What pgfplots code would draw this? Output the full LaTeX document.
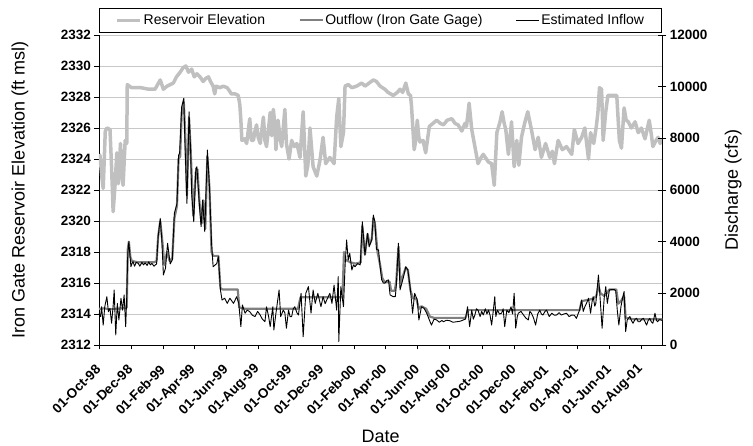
\documentclass[border=0pt]{standalone}
\usepackage{pgfplots}
\pgfplotsset{compat=1.18}
\usepackage{pgfplotstable}
\usepackage{fontspec}
\setmainfont{Liberation Sans}
\definecolor{elev}{HTML}{C0C0C0}
\definecolor{outf}{HTML}{808080}
\definecolor{gridc}{HTML}{C8C8C8}
\pgfplotsset{
  /pgf/number format/set thousands separator={},
  /pgf/number format/assume math mode=true,
}
% day (since 01-Oct-1998), elevation ft msl
\pgfplotstableread{
d e
0 2324.3
2 2324.2
5 2323.0
8 2322.1
12 2325.8
15 2326.0
21 2325.9
24 2323.5
27 2320.6
31 2322.5
34 2324.4
37 2322.4
41 2325.0
44 2323.0
46 2322.3
50 2325.2
53 2325.0
54 2328.8
62 2328.6
80 2328.6
95 2328.5
107 2328.5
112 2328.8
117 2329.1
123 2328.5
130 2328.7
136 2328.8
142 2328.9
148 2329.3
155 2329.6
161 2329.9
166 2330.0
171 2329.6
177 2329.8
182 2329.3
187 2329.5
193 2329.3
199 2329.0
204 2329.2
209 2329.3
213 2329.0
218 2328.7
221 2328.2
224 2328.7
231 2328.6
237 2328.7
245 2328.6
253 2328.2
260 2328.2
266 2328.1
269 2327.5
271 2326.5
273 2325.2
278 2325.3
282 2325.0
288 2326.6
291 2325.2
295 2325.2
298 2325.8
301 2326.2
304 2325.4
308 2325.0
314 2326.7
317 2325.2
320 2324.8
324 2326.0
327 2327.0
330 2325.5
333 2327.2
336 2326.2
338 2324.6
342 2326.5
346 2325.3
349 2324.8
352 2326.0
355 2327.2
358 2325.0
363 2324.0
368 2325.2
373 2324.8
378 2325.0
384 2324.1
390 2327.05
395 2322.9
399 2323.6
403 2326.0
409 2323.5
416 2322.9
422 2323.9
428 2325.4
433 2323.7
441 2324.1
449 2323.7
454 2326.7
458 2327.9
462 2324.8
467 2325.7
470 2328.7
476 2328.8
483 2328.6
492 2328.7
502 2328.9
508 2328.7
516 2328.9
524 2329.1
530 2329.0
537 2328.7
546 2328.5
552 2328.3
562 2328.1
570 2328.3
575 2328.5
580 2328.3
586 2328.9
591 2328.2
595 2328.1
597 2327.4
602 2324.6
605 2325.2
608 2326.5
611 2325.4
613 2325.1
619 2325.2
624 2324.4
631 2326.1
638 2326.3
645 2326.5
652 2326.3
658 2326.2
665 2326.5
674 2326.6
680 2326.3
686 2326.2
693 2325.8
699 2326.3
702 2326.1
707 2327.6
712 2325.9
718 2324.8
724 2323.7
730 2324.1
734 2324.3
740 2324.0
744 2323.8
750 2323.7
755 2322.3
760 2325.7
766 2326.4
770 2327.05
774 2326.3
777 2325.9
782 2324.3
788 2326.4
793 2323.5
798 2325.2
802 2323.6
807 2325.4
813 2326.3
819 2327.05
826 2325.9
833 2324.6
839 2325.4
845 2324.1
853 2325.0
861 2324.1
866 2324.5
870 2323.7
877 2325.2
885 2324.6
893 2324.8
899 2324.5
903 2324.3
908 2325.9
915 2325.0
922 2325.4
928 2326.0
935 2324.0
939 2325.7
945 2325.0
950 2326.1
953 2327.0
956 2328.6
960 2328.5
963 2325.2
968 2327.05
972 2328.1
989 2328.1
994 2325.2
998 2324.7
1003 2327.3
1007 2326.5
1011 2326.4
1017 2326.0
1024 2326.4
1030 2325.7
1036 2326.0
1043 2325.3
1051 2326.5
1055 2325.6
1058 2324.8
1064 2325.2
1068 2325.4
1072 2325.0
1076 2325.3
}\elevtab
% outflow cfs
\pgfplotstableread{
d q
0 1400
10 1420
20 1380
30 1400
45 1420
53 1450
55 3700
57 4000
60 3400
63 3250
75 3200
90 3200
105 3200
110 3250
113 4200
117 4800
121 4000
125 3100
130 3600
135 3250
140 3350
144 4900
149 5400
152 7200
155 7300
158 9000
162 9400
165 8000
168 5800
172 8800
175 7600
180 5000
185 6700
188 6800
192 5500
196 4700
199 5600
203 4500
207 7300
211 6100
215 3600
218 3450
228 3450
232 2200
236 2150
250 2150
265 2150
268 1450
280 1400
300 1400
320 1400
340 1400
360 1400
380 1400
385 1850
400 1850
420 1850
440 1850
455 1850
465 1850
468 3600
471 3300
480 3200
490 3150
500 3200
503 4600
508 3500
513 4300
517 3900
521 4100
524 4900
527 4700
532 3600
537 3100
541 2600
545 2450
555 2450
558 2100
565 2100
568 2500
572 3800
576 2400
581 2700
586 3000
590 2900
595 2100
600 1800
606 1800
611 1400
616 1500
625 1400
632 1100
640 1050
660 1050
680 1050
700 1050
705 1350
720 1350
760 1350
800 1350
850 1350
900 1350
918 1350
922 1700
935 1750
945 1800
950 1900
954 2300
958 2000
965 1900
970 2000
975 2150
988 2150
992 1600
997 1700
1003 1900
1006 1050
1020 1000
1040 1000
1060 1000
1076 1000
}\outtab
% estimated inflow cfs
\pgfplotstableread{
d q
0 1230
3 1100
5 1480
8 770
11 1480
15 1870
18 1290
21 1420
24 840
27 1500
29 2130
32 390
35 1610
38 970
42 1810
45 1350
48 1940
51 710
53 1870
55 3550
57 4000
59 3500
61 3030
63 3150
65 3230
68 3050
71 3200
75 3160
78 3050
82 3200
85 3100
88 3180
92 3080
95 3220
98 3100
101 3160
105 3050
110 3140
113 4190
117 4900
120 4070
123 2710
127 2970
131 3940
136 3140
140 3290
144 5100
149 5480
152 7350
154 7420
158 9230
162 9550
164 7940
168 5480
172 9030
175 7550
177 5870
181 4770
185 6840
187 6900
192 5350
195 4580
198 5610
202 4390
207 7550
211 6130
215 3940
218 3030
222 3100
225 3160
228 3420
232 2130
235 1740
240 1810
245 1610
250 1810
257 1610
263 1870
267 1610
271 710
274 1550
279 1230
283 1350
288 1290
293 1150
298 1100
303 1300
308 1160
312 1000
317 900
320 1480
324 1100
327 710
332 1480
334 580
338 1230
344 2130
347 1100
352 1350
355 1250
358 650
362 1350
365 1100
368 1100
371 1400
374 1480
378 1250
381 1160
386 2000
390 320
395 2000
400 2260
405 1230
409 2130
413 1610
418 2000
424 1480
428 1870
432 1600
435 1740
441 2000
445 1610
449 2320
454 1350
457 2650
458 130
462 2260
467 1480
470 3030
473 4070
476 3290
479 3550
483 2900
486 3100
489 3030
494 3150
499 3100
503 4770
508 3480
513 4320
516 3800
521 4070
524 5030
527 4770
530 3700
534 3680
537 3030
540 2520
543 2400
546 2390
550 2500
553 2520
556 1940
562 1870
566 1870
568 2320
572 3940
575 2130
581 2580
586 3030
590 2900
595 2130
599 1230
603 2000
608 1740
611 970
616 1480
621 1420
626 1230
631 970
635 770
640 1000
645 970
650 880
655 950
658 900
664 960
670 940
676 880
683 900
690 920
696 970
700 1000
704 1480
708 710
712 1350
715 1000
718 1160
721 1400
724 1350
728 1100
731 1300
734 1160
738 1400
741 1200
744 1350
747 1150
750 770
753 1300
756 1870
758 1100
761 1350
765 1200
769 1230
772 1400
775 710
779 1350
783 1250
787 1480
790 1200
793 2000
796 650
799 1100
801 1230
806 1300
811 1160
815 1050
820 970
823 1300
826 1230
830 1050
834 770
838 1200
842 1350
845 1200
848 1160
852 1300
855 1350
860 1100
865 1230
870 1150
874 1160
879 1250
883 1160
888 1200
893 1230
898 1100
903 1160
908 1150
912 1030
915 1200
918 1350
922 1740
925 1300
928 1480
932 1650
935 1810
939 1230
942 1700
944 1870
947 1500
949 1610
954 2710
957 1870
961 650
965 1810
968 2260
971 1610
975 2130
980 2150
984 2150
987 2100
990 1350
993 770
997 1480
1000 1810
1003 2070
1006 520
1009 970
1012 1050
1014 1100
1017 950
1020 840
1024 1000
1027 1030
1030 900
1033 900
1037 1000
1040 1030
1043 900
1046 770
1049 950
1052 1030
1055 900
1058 840
1062 1230
1065 950
1067 900
1070 980
1073 970
1076 950
}\intab
\begin{document}
\begin{tikzpicture}
\path[use as bounding box] (-99pt,-101pt) rectangle (654pt,345pt);
\begin{axis}[
  scale only axis, width=563.3pt, height=310pt,
  xmin=0, xmax=1076, ymin=2312, ymax=2332,
  axis x line*=bottom, axis y line*=left,
  x axis line style={-}, y axis line style={-},
  axis line style={black, line width=0.9pt},
  ytick={2312,2314,...,2332},
  xtick={0,61,123,182,243,304,365,426,488,548,609,670,732,793,855,914,975,1036},
  xticklabels={01-Oct-98,01-Dec-98,01-Feb-99,01-Apr-99,01-Jun-99,01-Aug-99,01-Oct-99,01-Dec-99,01-Feb-00,01-Apr-00,01-Jun-00,01-Aug-00,01-Oct-00,01-Dec-00,01-Feb-01,01-Apr-01,01-Jun-01,01-Aug-01},
  ymajorgrids, grid style={gridc, line width=0.8pt},
  tick align=outside, major tick length=4.5pt,
  tick style={black, line width=0.8pt},
  ticklabel style={font=\fontsize{13.5}{15}\selectfont\bfseries},
  xticklabel style={yshift=-17pt, rotate=45, anchor=east, inner sep=1pt},
  ylabel={Iron Gate Reservoir Elevation (ft msl)},
  xlabel={Date},
  label style={font=\fontsize{18}{20}\selectfont},
  ylabel style={at={(axis description cs:-0.1403,0.5)}, anchor=center},
  xlabel style={at={(axis description cs:0.5,-0.2935)}, anchor=center},
]
\addplot[elev, line width=3.5pt, line join=round] table[x=d, y=e] {\elevtab};
\end{axis}
\begin{axis}[
  scale only axis, width=563.3pt, height=310pt,
  xmin=0, xmax=1076, ymin=0, ymax=12000,
  axis x line=none, axis y line*=right,
  y axis line style={-},
  axis line style={black, line width=0.9pt},
  ytick={0,2000,...,12000}, scaled y ticks=false,
  tick align=center, major tick length=8pt,
  tick style={black, line width=0.8pt},
  ticklabel style={font=\fontsize{13.5}{15}\selectfont\bfseries},
  ylabel={Discharge (cfs)},
  label style={font=\fontsize{18}{20}\selectfont},
  ylabel style={at={(axis description cs:1.126,0.5)}, anchor=center},
  legend columns=3,
  legend cell align=left,
  legend image code/.code={\draw[#1] (0pt,0pt) -- (23pt,0pt);},
  legend style={at={(0.5,1)}, anchor=south, yshift=2pt, draw=black, line width=0.8pt,
    font=\fontsize{14}{16}\selectfont,
    /tikz/every even column/.append style={column sep=32pt},
    inner xsep=16pt, inner ysep=5pt, nodes={inner sep=1.5pt}},
]
\addlegendimage{elev, line width=3.5pt}
\addlegendentry{Reservoir Elevation}
\addplot[outf, line width=2.2pt, line join=round] table[x=d, y=q] {\outtab};
\addlegendentry{Outflow (Iron Gate Gage)}
\addplot[black, line width=0.9pt, line join=round] table[x=d, y=q] {\intab};
\addlegendentry{Estimated Inflow}
\end{axis}
\end{tikzpicture}
\end{document}
